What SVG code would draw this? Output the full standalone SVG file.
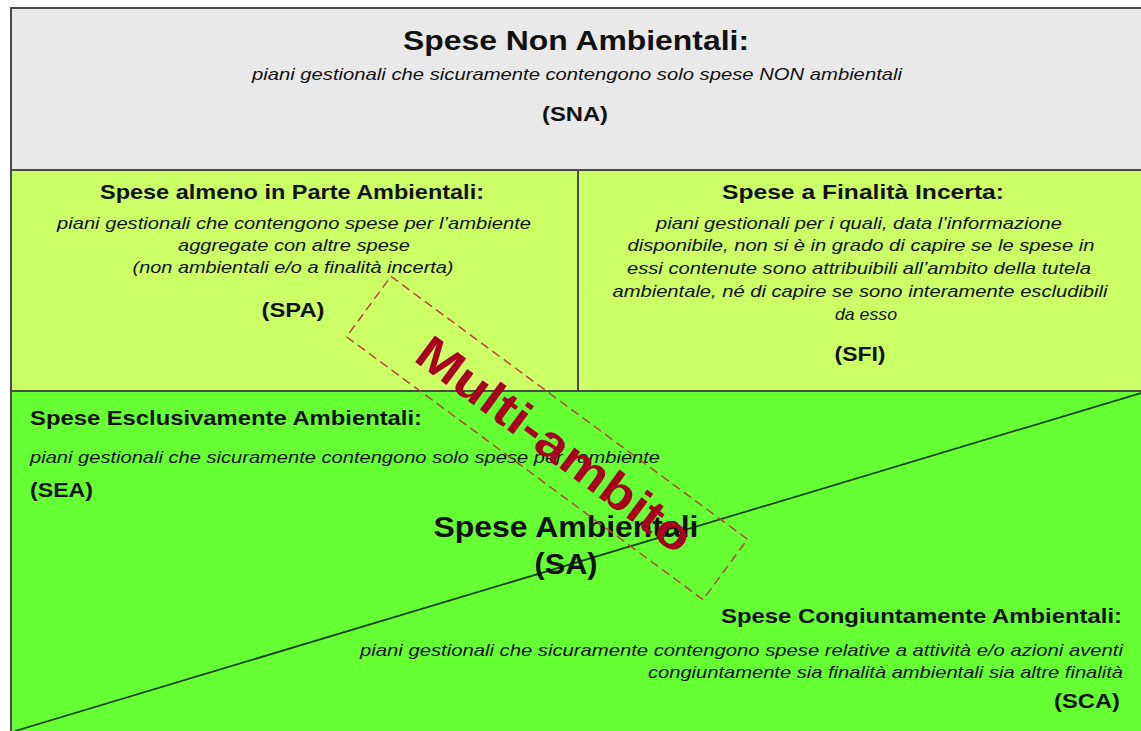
<svg xmlns="http://www.w3.org/2000/svg" width="1141" height="731" viewBox="0 0 1141 731">
<style>
  text { font-family: "Liberation Sans", Arial, sans-serif; fill: #111; }
  .t1 { font-size: 27px; font-weight: bold; }
  .t2 { font-size: 21px; font-weight: bold; }
  .it { font-size: 17px; font-style: italic; }
  .code { font-size: 20px; font-weight: bold; }
  .sa { font-size: 29px; font-weight: bold; }
  .multi { font-size: 48px; font-weight: bold; fill: #a8001e; }
  .border { stroke: #4a4a4a; stroke-width: 2; fill: none; }
</style>
<rect x="0" y="0" width="1141" height="731" fill="#ffffff"/>

<g id="sna">
  <rect x="11" y="8" width="1140" height="162" fill="#e9e9e9"/>
  <text class="t1" x="576" y="50" text-anchor="middle" textLength="346" lengthAdjust="spacingAndGlyphs">Spese Non Ambientali:</text>
  <text class="it" x="577" y="80" text-anchor="middle" textLength="650" lengthAdjust="spacingAndGlyphs">piani gestionali che sicuramente contengono  solo spese NON  ambientali</text>
  <text class="code" x="575" y="121" text-anchor="middle" textLength="66" lengthAdjust="spacingAndGlyphs">(SNA)</text>
</g>

<g id="spa">
  <rect x="11" y="170" width="567" height="221" fill="#ccff66"/>
  <text class="t2" x="292" y="199" text-anchor="middle" textLength="384" lengthAdjust="spacingAndGlyphs">Spese almeno in Parte Ambientali:</text>
  <text class="it" x="294" y="229" text-anchor="middle" textLength="474" lengthAdjust="spacingAndGlyphs">piani gestionali che contengono  spese per l’ambiente</text>
  <text class="it" x="294" y="251" text-anchor="middle" textLength="232" lengthAdjust="spacingAndGlyphs">aggregate  con altre spese</text>
  <text class="it" x="293" y="273" text-anchor="middle" textLength="321" lengthAdjust="spacingAndGlyphs">(non ambientali  e/o a finalità incerta)</text>
  <text class="code" x="293" y="317" text-anchor="middle" textLength="63" lengthAdjust="spacingAndGlyphs">(SPA)</text>
</g>

<g id="sfi">
  <rect x="578" y="170" width="573" height="221" fill="#ccff66"/>
  <text class="t2" x="863" y="199" text-anchor="middle" textLength="282" lengthAdjust="spacingAndGlyphs">Spese a Finalità Incerta:</text>
  <text class="it" x="859" y="229" text-anchor="middle" textLength="406" lengthAdjust="spacingAndGlyphs">piani gestionali per i quali, data l’informazione</text>
  <text class="it" x="861" y="251" text-anchor="middle" textLength="467" lengthAdjust="spacingAndGlyphs">disponibile, non si è in grado di capire se le spese in</text>
  <text class="it" x="859" y="274" text-anchor="middle" textLength="464" lengthAdjust="spacingAndGlyphs">essi contenute sono attribuibili all’ambito della tutela</text>
  <text class="it" x="860" y="297" text-anchor="middle" textLength="495" lengthAdjust="spacingAndGlyphs">ambientale, né di capire se sono interamente escludibili</text>
  <text class="it" x="866" y="320" text-anchor="middle" textLength="62" lengthAdjust="spacingAndGlyphs">da esso</text>
  <text class="code" x="860" y="361" text-anchor="middle" textLength="51" lengthAdjust="spacingAndGlyphs">(SFI)</text>
</g>

<g id="sa">
  <rect x="11" y="391" width="1140" height="340" fill="#66ff33"/>
  <g id="divider">
    <line x1="1141" y1="393" x2="15" y2="731" stroke="#143d0c" stroke-width="1.7"/>
  </g>
  <text class="sa" x="566" y="537" text-anchor="middle" textLength="265" lengthAdjust="spacingAndGlyphs">Spese Ambientali</text>
  <text class="sa" x="566" y="574" text-anchor="middle" textLength="63" lengthAdjust="spacingAndGlyphs">(SA)</text>
</g>

<g id="sea">
  <text class="t2" x="30" y="425" textLength="392" lengthAdjust="spacingAndGlyphs">Spese Esclusivamente Ambientali:</text>
  <text class="it" x="30" y="463" textLength="630" lengthAdjust="spacingAndGlyphs">piani gestionali che sicuramente contengono  solo spese per l’ambiente</text>
  <text class="code" x="30" y="497" textLength="63" lengthAdjust="spacingAndGlyphs">(SEA)</text>
</g>

<g id="sca">
  <text class="t2" x="1122" y="623" text-anchor="end" textLength="401" lengthAdjust="spacingAndGlyphs">Spese Congiuntamente Ambientali:</text>
  <text class="it" x="1123" y="656" text-anchor="end" textLength="763" lengthAdjust="spacingAndGlyphs">piani gestionali che sicuramente contengono  spese relative a attività e/o azioni aventi</text>
  <text class="it" x="1123" y="678" text-anchor="end" textLength="475" lengthAdjust="spacingAndGlyphs">congiuntamente  sia finalità ambientali sia altre finalità</text>
  <text class="code" x="1120" y="708" text-anchor="end" textLength="66" lengthAdjust="spacingAndGlyphs">(SCA)</text>
</g>

<g id="borders">
  <line class="border" x1="11" y1="8" x2="1141" y2="8"/>
  <line class="border" x1="11" y1="7" x2="11" y2="731"/>
  <line class="border" x1="11" y1="170" x2="1141" y2="170"/>
  <line class="border" x1="11" y1="391" x2="1141" y2="391"/>
  <line class="border" x1="578" y1="170" x2="578" y2="391"/>
</g>

<g id="multi-ambito" transform="translate(547 438) rotate(36.4)">
  <rect x="-221.5" y="-37.5" width="443" height="75" fill="none" stroke="#b8443a" stroke-width="1.5" stroke-dasharray="9 5"/>
  <text class="multi" x="10" y="17" text-anchor="middle" textLength="330" lengthAdjust="spacingAndGlyphs">Multi-ambito</text>
</g>
</svg>
